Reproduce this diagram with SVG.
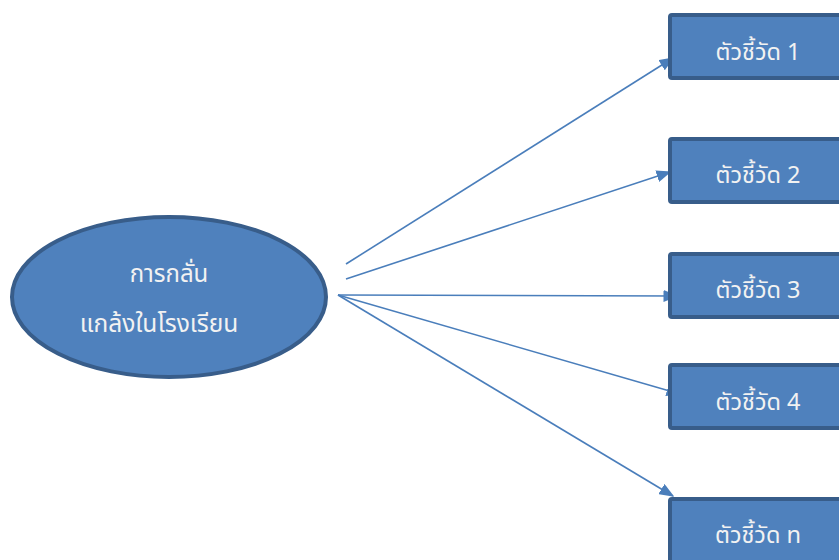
<svg xmlns="http://www.w3.org/2000/svg" width="839" height="560" viewBox="0 0 839 560">
<style>
.node{fill:#4F81BD;stroke:#385D8A;stroke-width:4}
.lbl{font-family:"Noto Sans Thai","Noto Sans","DejaVu Sans",sans-serif;fill:#F2F2F2;text-anchor:middle}
.conn{stroke:#4A7EBB;stroke-width:1.6;fill:none;marker-end:url(#arr)}
</style>
<defs>
<marker id="arr" viewBox="0 0 10 10" refX="9" refY="5" markerWidth="15" markerHeight="12" markerUnits="userSpaceOnUse" orient="auto" preserveAspectRatio="none">
<path d="M0,0 L10,5 L0,10 Z" fill="#4A7EBB"/>
</marker>
</defs>
<rect width="839" height="560" fill="#FFFFFF"/>
<g id="connectors">
<line class="conn" x1="346" y1="264" x2="673" y2="58"/>
<line class="conn" x1="346" y1="279" x2="670" y2="172"/>
<line class="conn" x1="338" y1="295" x2="677" y2="296"/>
<line class="conn" x1="338" y1="295" x2="680" y2="394"/>
<line class="conn" x1="338" y1="295" x2="673" y2="496"/>
</g>
<g id="root">
<ellipse class="node" cx="169" cy="297" rx="157" ry="80"/>
<text class="lbl" x="169" y="282" font-size="24">การกลั่น</text>
<text class="lbl" x="159" y="332" font-size="24.5">แกล้งในโรงเรียน</text>
</g>
<g id="ind1">
<rect class="node" x="670" y="15" width="190" height="63" rx="2"/>
<text class="lbl" x="758" y="60" font-size="23.5">ตัวชี้วัด 1</text>
</g>
<g id="ind2">
<rect class="node" x="670" y="139" width="190" height="63" rx="2"/>
<text class="lbl" x="758" y="183" font-size="23.5">ตัวชี้วัด 2</text>
</g>
<g id="ind3">
<rect class="node" x="670" y="254" width="190" height="63" rx="2"/>
<text class="lbl" x="758" y="298" font-size="23.5">ตัวชี้วัด 3</text>
</g>
<g id="ind4">
<rect class="node" x="670" y="365" width="190" height="63" rx="2"/>
<text class="lbl" x="758" y="410" font-size="23.5">ตัวชี้วัด 4</text>
</g>
<g id="indn">
<rect class="node" x="670" y="499" width="190" height="80" rx="2"/>
<text class="lbl" x="758" y="543" font-size="23.5">ตัวชี้วัด n</text>
</g>
</svg>
